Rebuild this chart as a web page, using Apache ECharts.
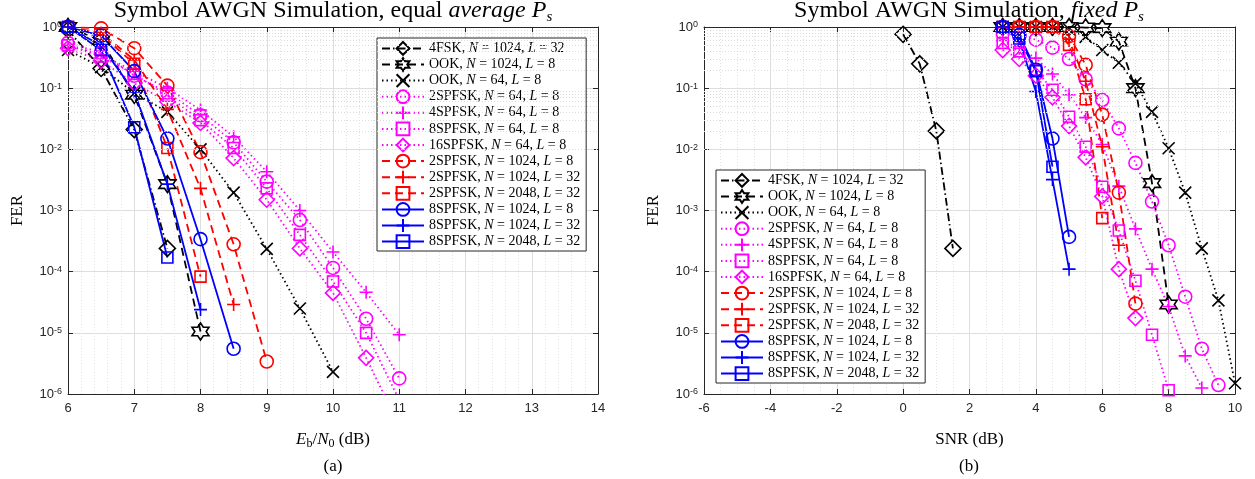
<!DOCTYPE html>
<html lang="en">
<head>
<meta charset="UTF-8">
<title>Symbol AWGN Simulation</title>
<script src="https://cdn.jsdelivr.net/npm/echarts@6/dist/echarts.min.js"></script>
<style>
  html, body { margin: 0; padding: 0; background: #fff; }
  #chart { width: 1255px; height: 479px; }
</style>
</head>
<body>
<div id="chart"></div>
<script>
// ---- data ----
// (a) x grid, Eb/N0 in dB
const ebn0 = [6, 6.5, 7, 7.5, 8, 8.5, 9, 9.5, 10, 10.5, 11];
// (b) x grids, SNR in dB
const snr = [3, 3.5, 4, 4.5, 5, 5.5, 6, 6.5, 7, 7.5, 8, 8.5, 9, 9.5, 10];
const snr4fsk = [0, 0.5, 1, 1.5];

const names = [
  '4FSK, N = 1024, L = 32',
  'OOK, N = 1024, L = 8',
  'OOK, N = 64, L = 8',
  '2SPFSK, N = 64, L = 8',
  '4SPFSK, N = 64, L = 8',
  '8SPFSK, N = 64, L = 8',
  '16SPFSK, N = 64, L = 8',
  '2SPFSK, N = 1024, L = 8',
  '2SPFSK, N = 1024, L = 32',
  '2SPFSK, N = 2048, L = 32',
  '8SPFSK, N = 1024, L = 8',
  '8SPFSK, N = 1024, L = 32',
  '8SPFSK, N = 2048, L = 32'
];

// FER, plot (a), starting at ebn0[0]
const fsk4A      = [0.9, 0.21, 0.021, 2.4e-4];
const ook1024A   = [1, 0.6, 0.078, 2.7e-3, 1.05e-5];
const ook64A     = [0.42, 0.22, 0.083, 0.041, 0.01, 1.96e-3, 2.36e-4, 2.5e-5, 2.3e-6];
const sp2n64A    = [0.55, 0.38, 0.16, 0.085, 0.036, 0.013, 2.96e-3, 7e-4, 1.15e-4, 1.7e-5, 1.8e-6];
const sp4n64A    = [0.5, 0.35, 0.19, 0.1, 0.044, 0.016, 4.3e-3, 1.0e-3, 2.1e-4, 4.6e-5, 9.3e-6];
const sp8n64A    = [0.5, 0.33, 0.17, 0.075, 0.03, 0.0105, 2.3e-3, 4e-4, 6.9e-5, 1e-5, 8e-7];
const sp16n64A   = [0.45, 0.28, 0.12, 0.06, 0.027, 7.2e-3, 1.5e-3, 2.4e-4, 4.5e-5, 3.9e-6, 3e-7];
const sp2n1024A  = [1, 0.95, 0.45, 0.11, 9e-3, 2.8e-4, 3.4e-6];
const sp2n1024L32A = [1, 0.8, 0.29, 0.045, 2.3e-3, 2.9e-5];
const sp2n2048A  = [1, 0.75, 0.25, 0.0105, 8.3e-5];
const sp8n1024A  = [1, 0.72, 0.19, 0.015, 3.4e-4, 5.5e-6];
const sp8n1024L32A = [1, 0.5, 0.087, 2.7e-3, 2.4e-5];
const sp8n2048A  = [1, 0.42, 0.023, 1.7e-4];

// FER, plot (b), starting at snr[0] (4FSK uses snr4fsk)
const fsk4B      = [0.76, 0.25, 0.02, 2.4e-4];
const ook1024B   = [1, 1, 1, 1, 1, 0.98, 0.96, 0.58, 0.1, 2.8e-3, 2.9e-5];
const ook64B     = [1, 1, 1, 1, 0.92, 0.69, 0.42, 0.26, 0.12, 0.041, 0.0104, 1.96e-3, 2.4e-4, 3.4e-5, 1.5e-6];
const sp2n64B    = [0.8, 0.72, 0.62, 0.46, 0.3, 0.14, 0.064, 0.022, 6e-3, 1.4e-3, 2.7e-4, 3.9e-5, 5.5e-6, 1.4e-6];
const sp4n64B    = [0.6, 0.45, 0.31, 0.17, 0.078, 0.033, 0.012, 2.5e-3, 5e-4, 1.1e-4, 2.7e-5, 4.2e-6, 1.25e-6];
const sp8n64B    = [0.55, 0.4, 0.2, 0.094, 0.034, 0.011, 2.45e-3, 4.7e-4, 7.1e-5, 9.3e-6, 1.15e-6];
const sp16n64B   = [0.42, 0.3, 0.16, 0.071, 0.024, 7.4e-3, 1.7e-3, 1.1e-4, 1.74e-5];
const sp2n1024B  = [1, 1, 1, 1, 0.71, 0.24, 0.037, 1.96e-3, 3e-5];
const sp2n1024L32B = [1, 1, 1, 1, 0.6, 0.13, 0.011, 2.7e-4];
const sp2n2048B  = [1, 1, 1, 1, 0.51, 0.066, 7.5e-4];
const sp8n1024B  = [1, 0.74, 0.2, 0.015, 3.7e-4];
const sp8n1024L32B = [1, 0.6, 0.088, 3.2e-3, 1.1e-4];
const sp8n2048B  = [1, 0.65, 0.19, 5.2e-3];

const dataA = [fsk4A, ook1024A, ook64A, sp2n64A, sp4n64A, sp8n64A, sp16n64A,
  sp2n1024A, sp2n1024L32A, sp2n2048A, sp8n1024A, sp8n1024L32A, sp8n2048A];
const dataB = [fsk4B, ook1024B, ook64B, sp2n64B, sp4n64B, sp8n64B, sp16n64B,
  sp2n1024B, sp2n1024L32B, sp2n2048B, sp8n1024B, sp8n1024L32B, sp8n2048B];

// ---- styles ----
const SERIF = 'Liberation Serif';
const SANS = 'Liberation Sans';
const DIAMOND = 'path://M0,-1000L1000,0L0,1000L-1000,0Z';
const HEXAGRAM = 'path://M0,-1000L289,-500L866,-500L577,0L866,500L289,500L0,1000L-289,500L-866,500L-577,0L-866,-500L-289,-500Z';
const PLUS = 'path://M0,-1000L0,1000M-1000,0L1000,0';
const CROSS = 'path://M-1000,-1000L1000,1000M-1000,1000L1000,-1000';
const DASH = [8, 5];
const DOT = [1.5, 3];
const DASHDOT = [8, 3, 1.5, 3];

const looks = [
  { color: '#000000', symbol: DIAMOND, size: 16, dash: DASHDOT },
  { color: '#000000', symbol: HEXAGRAM, size: 17, dash: DASH },
  { color: '#000000', symbol: CROSS, size: 12, dash: DOT },
  { color: '#ff00ff', symbol: 'circle', size: 13, dash: DOT },
  { color: '#ff00ff', symbol: PLUS, size: 13, dash: DOT },
  { color: '#ff00ff', symbol: 'rect', size: 11, dash: DOT },
  { color: '#ff00ff', symbol: DIAMOND, size: 15, dash: DOT },
  { color: '#ff0000', symbol: 'circle', size: 13, dash: DASH },
  { color: '#ff0000', symbol: PLUS, size: 13, dash: DASH },
  { color: '#ff0000', symbol: 'rect', size: 11, dash: DASH },
  { color: '#0000ff', symbol: 'circle', size: 13, dash: 'solid' },
  { color: '#0000ff', symbol: PLUS, size: 13, dash: 'solid' },
  { color: '#0000ff', symbol: 'rect', size: 11, dash: 'solid' }
];

const minorY = [];
for (let e = -6; e < 0; e++) {
  for (let k = 2; k <= 9; k++) minorY.push(k * Math.pow(10, e));
}

function makeSeries(vals, xs, i, xi, yi) {
  const lk = looks[i];
  return {
    name: names[i],
    type: 'line',
    xAxisIndex: xi,
    yAxisIndex: yi,
    data: vals.map((v, j) => [xs[j], v]),
    symbol: lk.symbol,
    symbolSize: lk.size,
    showAllSymbol: true,
    clip: true,
    itemStyle: { color: 'transparent', borderColor: lk.color, borderWidth: 1.6 },
    lineStyle: { color: lk.color, width: 1.8, type: lk.dash },
    emphasis: { disabled: true }
  };
}

// dotted minor grid of the log axis (2..9 x 10^n)
function gridSeries(xi, yi, x0) {
  return {
    type: 'line', xAxisIndex: xi, yAxisIndex: yi, data: [[x0, 1]], silent: true, z: 0,
    symbol: 'none', lineStyle: { opacity: 0 },
    markLine: {
      silent: true, symbol: ['none', 'none'], label: { show: false },
      lineStyle: { color: '#dcdcdc', width: 1, type: [1, 2] },
      emphasis: { disabled: true },
      data: minorY.map(v => ({ yAxis: v }))
    }
  };
}

const series = [gridSeries(0, 0, 6), gridSeries(2, 2, -6)];
dataA.forEach((d, i) => series.push(makeSeries(d, ebn0, i, 0, 0)));
dataB.forEach((d, i) => series.push(makeSeries(d, i === 0 ? snr4fsk : snr, i, 2, 2)));

const tickFont = { fontFamily: SANS, fontSize: 13, color: '#262626' };

function xAxisPair(gridIndex, min, max, interval, minorSplit, name) {
  return [{
    type: 'value', gridIndex, min, max, interval, position: 'bottom',
    name, nameLocation: 'middle', nameGap: 36,
    nameTextStyle: {
      fontFamily: SERIF, fontSize: 17, color: '#000', lineHeight: 20,
      rich: {
        i: { fontFamily: SERIF, fontStyle: 'italic', fontSize: 17, lineHeight: 20 },
        s: { fontFamily: SERIF, fontSize: 12, lineHeight: 11, verticalAlign: 'bottom' }
      }
    },
    axisLine: { show: true, onZero: false, lineStyle: { color: '#262626', width: 1 } },
    axisTick: { inside: true, length: 5, lineStyle: { color: '#262626' } },
    axisLabel: Object.assign({ margin: 8 }, tickFont),
    splitLine: { show: true, lineStyle: { color: '#dedede', width: 1 } },
    minorTick: { show: false, splitNumber: minorSplit },
    minorSplitLine: { show: true, lineStyle: { color: '#e2e2e2', width: 1, type: [1, 2] } }
  }, {
    type: 'value', gridIndex, min, max, interval, position: 'top',
    axisLine: { show: true, onZero: false, lineStyle: { color: '#262626', width: 1 } },
    axisTick: { inside: true, length: 5, lineStyle: { color: '#262626' } },
    axisLabel: { show: false }, splitLine: { show: false }
  }];
}

function yAxisPair(gridIndex) {
  return [{
    type: 'log', logBase: 10, gridIndex, min: 1e-6, max: 1, splitNumber: 6, position: 'left',
    name: 'FER', nameLocation: 'middle', nameGap: 42, nameRotate: 90,
    nameTextStyle: { fontFamily: SERIF, fontSize: 17, color: '#000' },
    axisLine: { show: true, onZero: false, lineStyle: { color: '#262626', width: 1 } },
    axisTick: { inside: true, length: 5, lineStyle: { color: '#262626' } },
    axisLabel: {
      margin: 6, fontFamily: SANS, fontSize: 13, color: '#262626',
      formatter: v => '10{e|' + Math.round(Math.log10(v)) + '}',
      rich: { e: { fontFamily: SANS, fontSize: 9, color: '#262626', verticalAlign: 'top', lineHeight: 10, padding: [0, 0, 6, 0] } }
    },
    splitLine: { show: true, lineStyle: { color: '#dedede', width: 1 } }
  }, {
    type: 'log', logBase: 10, gridIndex, min: 1e-6, max: 1, splitNumber: 6, position: 'right',
    axisLine: { show: true, onZero: false, lineStyle: { color: '#262626', width: 1 } },
    axisTick: { inside: true, length: 5, lineStyle: { color: '#262626' } },
    axisLabel: { show: false }, splitLine: { show: false }
  }];
}

const legendText = {
  fontFamily: SERIF, fontSize: 14, color: '#000', lineHeight: 14,
  rich: { i: { fontFamily: SERIF, fontStyle: 'italic', fontSize: 14, lineHeight: 14, color: '#000' } }
};
function legendAt(left, top) {
  return {
    orient: 'vertical', left, top, data: names, selectedMode: false,
    itemWidth: 42, itemHeight: 16, itemGap: 1.3, padding: [3, 6, 2, 4],
    backgroundColor: '#fff', borderColor: '#262626', borderWidth: 1,
    textStyle: legendText,
    formatter: n => n.replace(/(^|, )([NL]) /g, '$1{i|$2} ')
  };
}

const titleRich = {
  i: { fontFamily: SERIF, fontStyle: 'italic', fontSize: 24, color: '#000' },
  s: { fontFamily: SERIF, fontStyle: 'italic', fontSize: 15, color: '#000', verticalAlign: 'bottom', lineHeight: 14 }
};
function titleAt(text, left, top, size) {
  return {
    text, left, top, textAlign: 'center', padding: 0,
    textStyle: { fontFamily: SERIF, fontWeight: 'normal', fontSize: size, color: '#000', lineHeight: size + 4, rich: titleRich }
  };
}

const option = {
  animation: false,
  backgroundColor: '#fff',
  title: [
    titleAt('Symbol AWGN Simulation, equal {i|average} {i|P}{s|s}', 333, -3, 24),
    titleAt('Symbol AWGN Simulation, {i|fixed} {i|P}{s|s}', 969, -3, 24),
    titleAt('(a)', 333, 456, 17),
    titleAt('(b)', 969, 456, 17)
  ],
  legend: [legendAt(377, 38), legendAt(716, 170)],
  grid: [
    { left: 68, right: 657, top: 27, bottom: 85 },
    { left: 704, right: 20, top: 27, bottom: 85 }
  ],
  xAxis: [
    ...xAxisPair(0, 6, 14, 1, 5, '{i|E}{s|b}/{i|N}{s|0} (dB)'),
    ...xAxisPair(1, -6, 10, 2, 4, 'SNR (dB)')
  ],
  yAxis: [...yAxisPair(0), ...yAxisPair(1)],
  series
};

const chart = echarts.init(document.getElementById('chart'));
chart.setOption(option);
window.addEventListener('resize', function () {
  chart.resize();
});
</script>
</body>
</html>
